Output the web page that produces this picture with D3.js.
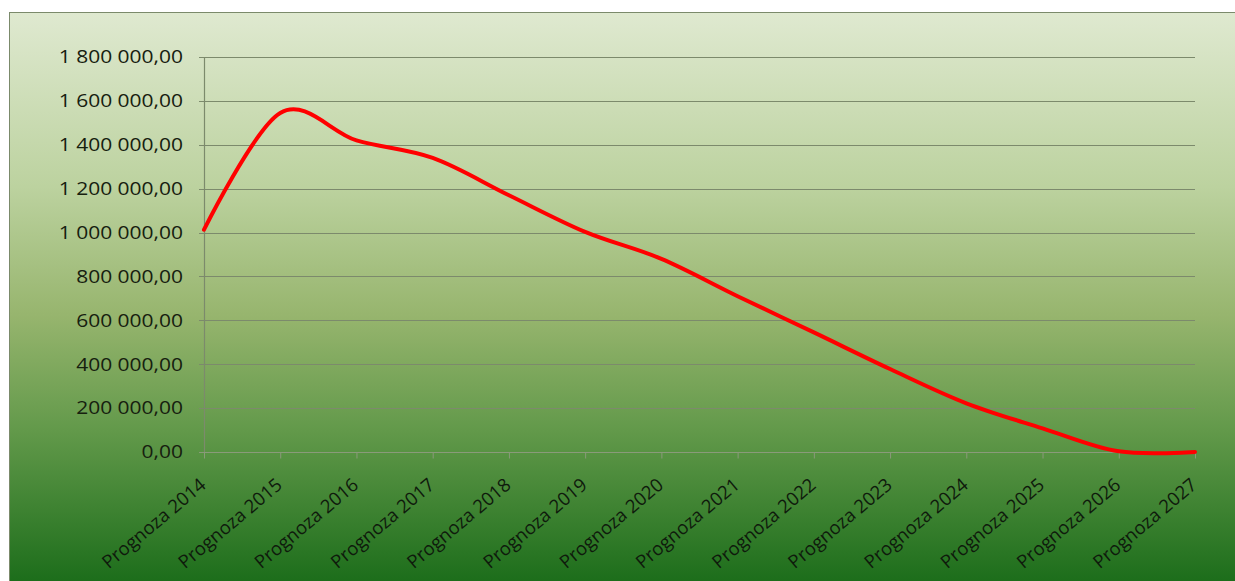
<!DOCTYPE html>
<html>
<head>
<meta charset="utf-8">
<script src="https://cdn.jsdelivr.net/npm/d3@7"></script>
<style>
  html, body { margin: 0; padding: 0; background: #fff; }
  svg { display: block; }
</style>
</head>
<body>
<div id="chart"></div>
<script>
// =========================
// DATA
// =========================
const categories = [
    "Prognoza 2014", "Prognoza 2015", "Prognoza 2016", "Prognoza 2017",
    "Prognoza 2018", "Prognoza 2019", "Prognoza 2020", "Prognoza 2021",
    "Prognoza 2022", "Prognoza 2023", "Prognoza 2024", "Prognoza 2025",
    "Prognoza 2026", "Prognoza 2027"
];
const values = [
    1013000, 1545000, 1420000, 1340000, 1170000, 1003000, 880000,
    710000, 545000, 378000, 222000, 108000, 3000, 0
];
const yTicks = [0, 200000, 400000, 600000, 800000, 1000000, 1200000, 1400000, 1600000, 1800000];

// =========================
// SETUP
// =========================
const width = 1235;
const height = 581;
const plot = { left: 204, right: 1195, top: 57, bottom: 452 };

const svg = d3.select("#chart")
    .append("svg")
    .attr("width", width)
    .attr("height", height);

// background gradient (Excel style fill)
const defs = svg.append("defs");
const grad = defs.append("linearGradient")
    .attr("id", "bg")
    .attr("x1", 0).attr("y1", 0)
    .attr("x2", 0).attr("y2", 1);
[
    ["0%", "#dfe9d0"],
    ["30%", "#bcd29f"],
    ["52%", "#97b56e"],
    ["72%", "#62994a"],
    ["100%", "#176a17"]
].forEach(([o, c]) => grad.append("stop").attr("offset", o).attr("stop-color", c));

svg.append("rect")
    .attr("x", 9.5).attr("y", 12.5)
    .attr("width", width).attr("height", height)
    .attr("fill", "url(#bg)")
    .attr("stroke", "#7b8a6b")
    .attr("stroke-width", 1);

// =========================
// SCALES
// =========================
const x = d3.scalePoint()
    .domain(categories)
    .range([plot.left, plot.right]);

const y = d3.scaleLinear()
    .domain([0, 1800000])
    .range([plot.bottom, plot.top]);

const locale = d3.formatLocale({ decimal: ",", thousands: " ", grouping: [3], currency: ["", ""] });
const fmt = locale.format(",.2f");

// =========================
// GRIDLINES
// =========================
svg.append("g")
    .selectAll("line")
    .data(yTicks.filter(d => d > 0))
    .join("line")
    .attr("x1", plot.left - 5)
    .attr("x2", plot.right)
    .attr("y1", d => Math.round(y(d)) + 0.5)
    .attr("y2", d => Math.round(y(d)) + 0.5)
    .attr("stroke", "#7c8a6c")
    .attr("stroke-width", 1.2);

// y axis line
svg.append("line")
    .attr("x1", plot.left + 0.5).attr("x2", plot.left + 0.5)
    .attr("y1", plot.top).attr("y2", plot.bottom)
    .attr("stroke", "#7c8a6c")
    .attr("stroke-width", 1.2);

// x axis (0 line + ticks)
const xAxis = d3.axisBottom(x).tickSize(6).tickFormat("");
svg.append("g")
    .attr("transform", `translate(0,${Math.round(y(0)) + 0.5})`)
    .call(xAxis)
    .call(g => g.select(".domain").attr("stroke", "#8a9a7a").attr("d", `M${plot.left - 5},0H${plot.right}`))
    .call(g => g.selectAll(".tick line").attr("stroke", "#8a9a7a"));

// =========================
// Y LABELS
// =========================
svg.append("g")
    .selectAll("text")
    .data(yTicks)
    .join("text")
    .attr("transform", d => `translate(${plot.left - 21},${y(d)}) scale(1.2,1)`)
    .attr("text-anchor", "end")
    .attr("dy", "0.36em")
    .style("font-family", "'Open Sans', sans-serif")
    .style("font-size", "17.5px")
    .style("fill", "#16200f")
    .text(d => fmt(d));

// =========================
// X LABELS
// =========================
svg.append("g")
    .selectAll("text")
    .data(categories)
    .join("text")
    .attr("transform", d => `translate(${x(d) - 1},${plot.bottom + 30}) rotate(-40)`)
    .attr("text-anchor", "end")
    .attr("dy", "0.35em")
    .style("font-family", "'Open Sans', sans-serif")
    .style("font-size", "18.5px")
    .style("fill", "#0f1a0c")
    .text(d => d);

// =========================
// LINE
// =========================
const line = d3.line()
    .x((d, i) => x(categories[i]))
    .y(d => y(d))
    .curve(d3.curveCardinal.tension(0));

svg.append("path")
    .datum(values)
    .attr("d", line)
    .attr("fill", "none")
    .attr("stroke", "#ff0000")
    .attr("stroke-width", 4)
    .attr("stroke-linejoin", "round")
    .attr("stroke-linecap", "round");
</script>
</body>
</html>
